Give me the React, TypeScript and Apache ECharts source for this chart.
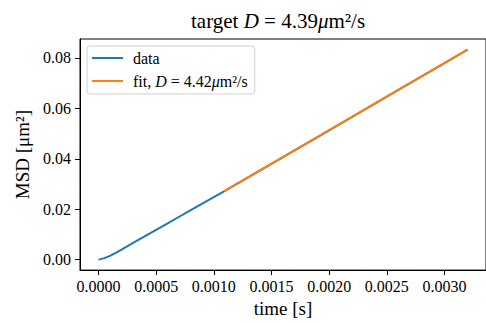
import React, { useEffect, useRef } from "react";
import * as echarts from "echarts";

const dataT = [0, 0.00002, 0.00005, 0.0001, 0.00015, 0.0002, 0.0003, 0.0004, 0.0005, 0.0006, 0.0007, 0.0008, 0.0009, 0.001, 0.0011, 0.0015, 0.002, 0.0025, 0.003, 0.0032];
const dataMSD = [0, 0.0002, 0.0006, 0.0015, 0.0027, 0.004, 0.0066, 0.0092, 0.0118, 0.0144, 0.017, 0.0196, 0.0222, 0.0248, 0.0274, 0.038, 0.0513, 0.0646, 0.0779, 0.0833];
const fitT = [0.00109, 0.0032];
const fitMSD = [0.02714, 0.0833];
const xTicks = [0, 0.0005, 0.001, 0.0015, 0.002, 0.0025, 0.003];
const yTicks = [0, 0.02, 0.04, 0.06, 0.08];

const FONT = "Liberation Serif";

export default function App() {
  const ref = useRef<HTMLDivElement>(null);
  useEffect(() => {
    if (!ref.current) return;
    const chart = echarts.init(ref.current, null, { renderer: "svg" });
    const rich = (size: number) => ({
      a: { fontFamily: FONT, fontSize: size, fontWeight: "normal", color: "#000" },
      i: { fontFamily: FONT, fontSize: size, fontWeight: "normal", fontStyle: "italic", color: "#000" },
    });
    chart.setOption({
      animation: false,
      backgroundColor: "#fff",
      textStyle: { fontFamily: FONT, color: "#000" },
      title: {
        text: "{a|target }{i|D}{a| = 4.39}{i|μ}{a|m²/s}",
        left: 186,
        top: 5,
        textStyle: { fontFamily: FONT, fontWeight: "normal", fontSize: 21, rich: rich(21) },
      },
      legend: {
        orient: "vertical",
        left: 87,
        top: 46,
        padding: [3, 7, 4, 5],
        itemWidth: 31,
        itemHeight: 2,
        itemGap: 5,
        icon: "rect",
        backgroundColor: "rgba(255,255,255,0.8)",
        borderColor: "#d0d0d0",
        borderWidth: 1,
        borderRadius: 3,
        data: ["data", "fit"],
        formatter: (name: string) =>
          name === "data" ? "{a|data}" : "{a|fit, }{i|D}{a| = 4.42}{i|μ}{a|m²/s}",
        textStyle: { fontFamily: FONT, fontSize: 16, padding: [0, 0, 0, 5], lineHeight: 18, rich: rich(16) },
      },
      grid: {
        left: 80,
        top: 39,
        right: -12.5,
        bottom: 51,
        show: true,
        borderColor: "#000",
        borderWidth: 1,
        backgroundColor: "transparent",
      },
      xAxis: {
        type: "value",
        min: -0.00016,
        max: 0.00336,
        name: "time [s]",
        nameLocation: "middle",
        nameGap: 28,
        nameTextStyle: { fontFamily: FONT, fontSize: 19, color: "#000" },
        axisLine: { show: true, onZero: false, lineStyle: { color: "#000", width: 1 } },
        axisTick: { show: true, length: 5, lineStyle: { color: "#000", width: 1 }, customValues: xTicks },
        axisLabel: {
          customValues: xTicks,
          margin: 8,
          formatter: (v: number) => "{a|" + v.toFixed(4) + "}",
          fontFamily: FONT,
          fontSize: 16,
          color: "#000",
          rich: rich(16),
        },
        splitLine: { show: false },
      },
      yAxis: {
        type: "value",
        min: -0.00416,
        max: 0.0875,
        name: "MSD [μm²]",
        nameLocation: "middle",
        nameGap: 47,
        nameTextStyle: { fontFamily: FONT, fontSize: 19, color: "#000" },
        axisLine: { show: true, onZero: false, lineStyle: { color: "#000", width: 1 } },
        axisTick: { show: true, length: 5, lineStyle: { color: "#000", width: 1 }, customValues: yTicks },
        axisLabel: {
          customValues: yTicks,
          margin: 9,
          formatter: (v: number) => "{a|" + v.toFixed(2) + "}",
          fontFamily: FONT,
          fontSize: 16,
          color: "#000",
          rich: rich(16),
        },
        splitLine: { show: false },
      },
      series: [
        {
          name: "data",
          type: "line",
          symbol: "none",
          color: "#1f77b4",
          lineStyle: { color: "#1f77b4", width: 2 },
          data: dataT.map((t, i) => [t, dataMSD[i]]),
        },
        {
          name: "fit",
          type: "line",
          symbol: "none",
          color: "#ff7f0e",
          lineStyle: { color: "#ff7f0e", width: 2 },
          data: fitT.map((t, i) => [t, fitMSD[i]]),
        },
      ],
    });
    return () => chart.dispose();
  }, []);
  return (
    <div
      ref={ref}
      style={{ position: "fixed", left: 0, top: 0, width: 486, height: 323 }}
    />
  );
}
